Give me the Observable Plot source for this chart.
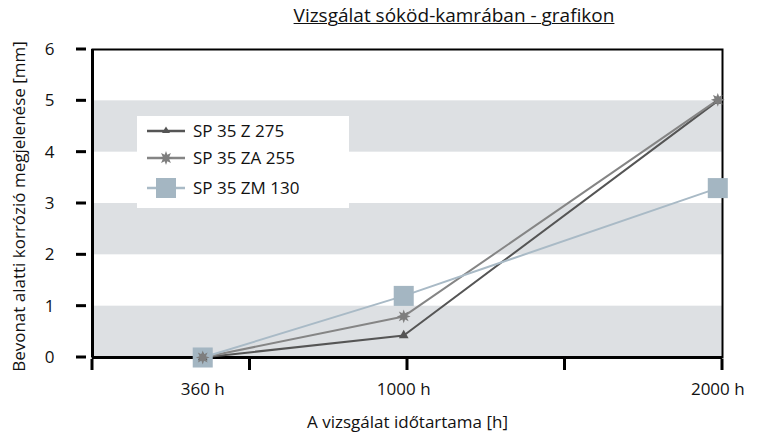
<!DOCTYPE html>
<html>
<head>
<meta charset="utf-8">
<script src="https://cdn.jsdelivr.net/npm/d3@7"></script>
<script src="https://cdn.jsdelivr.net/npm/@observablehq/plot@0.6"></script>
<style>
  body { margin: 0; background: #fff; font-family: "Open Sans", sans-serif; }
  #wrap { position: relative; width: 762px; height: 433px; }
  #title { position: absolute; left: 454px; top: 2px; transform: translateX(-50%); white-space: nowrap; font-size: 19px; text-decoration: underline; text-decoration-thickness: 1px; color: #111; }
  #legend { position: absolute; left: 137px; top: 116px; width: 212px; height: 92px; background: #fff; }
  .lrow { position: absolute; left: 0; display: flex; align-items: center; font-size: 17px; color: #111; }
  .lrow svg { margin-left: 10px; margin-right: 8px; }
</style>
</head>
<body>
<div id="wrap">
  <div id="chart"></div>
  <div id="title"></div>
  <div id="legend"></div>
</div>
<script>
// ---- data ----
const titleText = "Vizsgálat sóköd-kamrában - grafikon";
const xLabel = "A vizsgálat időtartama [h]";
const yLabel = "Bevonat alatti korrózió megjelenése [mm]";
const hours = [360, 1000, 2000];
const hourLabels = ["360 h", "1000 h", "2000 h"];
const seriesNames = ["SP 35 Z 275", "SP 35 ZA 255", "SP 35 ZM 130"];
const z275 = [0, 0.43, 5.0];
const za255 = [0, 0.8, 5.02];
const zm130 = [0, 1.2, 3.3];
const yTicks = [0, 1, 2, 3, 4, 5, 6];
const bandStarts = [0, 2, 4];

// ---- styles ----
const colors = ["#555555", "#858585", "#a9bac6"];
const markerFill = ["#555555", "#7e7e7e", "#a4b6c2"];
const xDomain = [9, 2015];

const star8 = {
  draw(context, size) {
    const R = Math.sqrt(size / Math.PI) * 1.15, r = R * 0.5, n = 8;
    for (let i = 0; i < 2 * n; i++) {
      const a = (Math.PI * i) / n - Math.PI / 2;
      const rr = i % 2 === 0 ? R : r;
      const px = rr * Math.cos(a), py = rr * Math.sin(a);
      if (i === 0) context.moveTo(px, py); else context.lineTo(px, py);
    }
    context.closePath();
  }
};

const seriesValues = [z275, za255, zm130];
const rows = [];
seriesValues.forEach((vals, si) => vals.forEach((v, i) => rows.push({series: seriesNames[si], h: hours[i], v})));
const of = (s) => rows.filter(d => d.series === s);

const xTicks = d3.range(5).map(i => xDomain[0] + i * (xDomain[1] - xDomain[0]) / 4);

const chart = Plot.plot({
  width: 762,
  height: 433,
  marginLeft: 92,
  marginRight: 40,
  marginTop: 49,
  marginBottom: 76,
  style: {fontFamily: "Open Sans, sans-serif", fontSize: "17px", color: "#111", background: "transparent", overflow: "visible"},
  x: {domain: xDomain, axis: null},
  y: {domain: [0, 6], axis: null},
  marks: [
    Plot.rect(bandStarts, {y1: d => d, y2: d => d + 1, fill: "#dde0e3"}),
    Plot.frame({stroke: "#000", strokeWidth: 2}),
    Plot.ruleX([xDomain[0]], {stroke: "#000", strokeWidth: 3}),
    Plot.ruleY([0], {stroke: "#000", strokeWidth: 3}),
    Plot.text(yTicks, {y: d => d, text: d => String(d), frameAnchor: "left", dx: -38, textAnchor: "end", lineAnchor: "middle", fontSize: 17, fill: "#111"}),
    Plot.text(hours, {x: d => d, text: (d, i) => hourLabels[i], frameAnchor: "bottom", lineAnchor: "middle", dy: 32, fontSize: 17, fill: "#111"}),
    Plot.text([xLabel], {frameAnchor: "bottom", lineAnchor: "middle", dy: 65, fontSize: 17, fill: "#111"}),
    Plot.text([yLabel], {frameAnchor: "left", textAnchor: "middle", lineAnchor: "middle", rotate: -90, dx: -73, dy: 3, fontSize: 17, fill: "#111"}),
    Plot.line(of(seriesNames[0]), {x: "h", y: "v", stroke: colors[0], strokeWidth: 2}),
    Plot.line(of(seriesNames[1]), {x: "h", y: "v", stroke: colors[1], strokeWidth: 2}),
    Plot.line(of(seriesNames[2]), {x: "h", y: "v", stroke: colors[2], strokeWidth: 2}),
    Plot.dot(of(seriesNames[2]), {x: "h", y: "v", symbol: "square", r: 11.3, fill: markerFill[2]}),
    Plot.dot(of(seriesNames[0]), {x: "h", y: "v", symbol: "triangle", r: 3.6, fill: markerFill[0]}),
    Plot.dot(of(seriesNames[1]), {x: "h", y: "v", symbol: star8, r: 6, fill: markerFill[1]})
  ]
});
document.getElementById("chart").appendChild(chart);
document.getElementById("title").textContent = titleText;

// axis tick dashes, placed with the chart's own scales
const sx = chart.scale("x"), sy = chart.scale("y");
const svg = d3.select(chart);
const y0px = sy.apply(0), x0px = sx.apply(xDomain[0]);
const tg = svg.append("g").attr("stroke", "#000").attr("stroke-width", 3);
tg.selectAll(".yt").data(yTicks).join("line")
  .attr("x1", x0px - 16).attr("x2", x0px - 6)
  .attr("y1", d => sy.apply(d)).attr("y2", d => sy.apply(d));
tg.selectAll(".xt").data(xTicks).join("line")
  .attr("x1", d => sx.apply(d)).attr("x2", d => sx.apply(d))
  .attr("y1", y0px + 2).attr("y2", y0px + 13);

// legend
const legend = document.getElementById("legend");
const rowTops = [3, 30, 60];
const markerSvg = [
  `<polygon points="19,3.5 23,10 15,10" fill="${markerFill[0]}"/>`,
  (() => {
    const R = 7, r = 3.5, n = 8, pts = [];
    for (let i = 0; i < 2 * n; i++) { const a = Math.PI * i / n - Math.PI / 2, rr = i % 2 ? r : R; pts.push((19 + rr * Math.cos(a)).toFixed(2) + "," + (8 + rr * Math.sin(a)).toFixed(2)); }
    return `<polygon points="${pts.join(" ")}" fill="${markerFill[1]}"/>`;
  })(),
  `<rect x="9" y="-2" width="20" height="20" fill="${markerFill[2]}"/>`
];
seriesNames.forEach((s, i) => {
  const row = document.createElement("div");
  row.className = "lrow";
  row.style.top = rowTops[i] + "px";
  row.innerHTML = `<svg width="38" height="22" viewBox="0 -3 38 22" overflow="visible"><line x1="0" x2="38" y1="8" y2="8" stroke="${colors[i]}" stroke-width="2.5"/>${markerSvg[i]}</svg><span>${s}</span>`;
  legend.appendChild(row);
});
</script>
</body>
</html>
